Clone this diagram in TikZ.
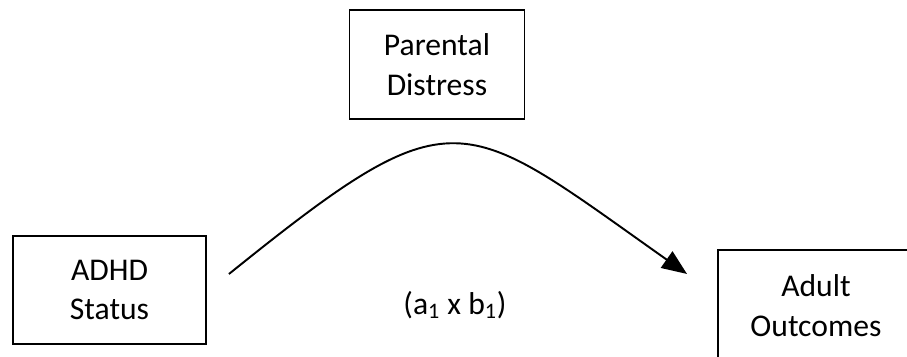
\documentclass[tikz,border=0pt]{standalone}
\usepackage{fontspec}
\setmainfont{Carlito}
\usetikzlibrary{arrows.meta,positioning}

\begin{document}
\begin{tikzpicture}[
        x=0.02cm, y=-0.02cm,
        box/.style={draw, line width=1.1pt, rectangle, align=center, inner sep=0pt,
            font=\fontsize{18}{22.7}\selectfont},
        lbl/.style={font=\fontsize{18}{22.7}\selectfont}
    ]

    % page size, as in the reference
    \path[use as bounding box, clip] (0,0) rectangle (907,356);

    % mediator
    \node[box, minimum width=3.5cm, minimum height=2.18cm] (distress) at (437,64.5) {Parental\\Distress};

    % predictor and outcome
    \node[box, minimum width=3.86cm, minimum height=2.16cm] (adhd) at (109.5,290) {ADHD\\Status};
    \node[box, minimum width=3.92cm, minimum height=2.24cm, anchor=north west] (adult) at (717,249) {Adult\\Outcomes};

    % indirect path
    \coordinate (from) at ([xshift=0.44cm, yshift=0.32cm]adhd.east);
    \coordinate (to) at ([xshift=-0.6cm, yshift=0.64cm]adult.west);
    \draw[line width=1.1pt, -{Triangle[length=0.5cm, width=0.4cm]}]
        (from) .. controls (456,91) and (459,113) .. (to);

    % Label
    \node[lbl] (effect) at (455,305) {(a\textsubscript{1} x b\textsubscript{1})};

\end{tikzpicture}
\end{document}
